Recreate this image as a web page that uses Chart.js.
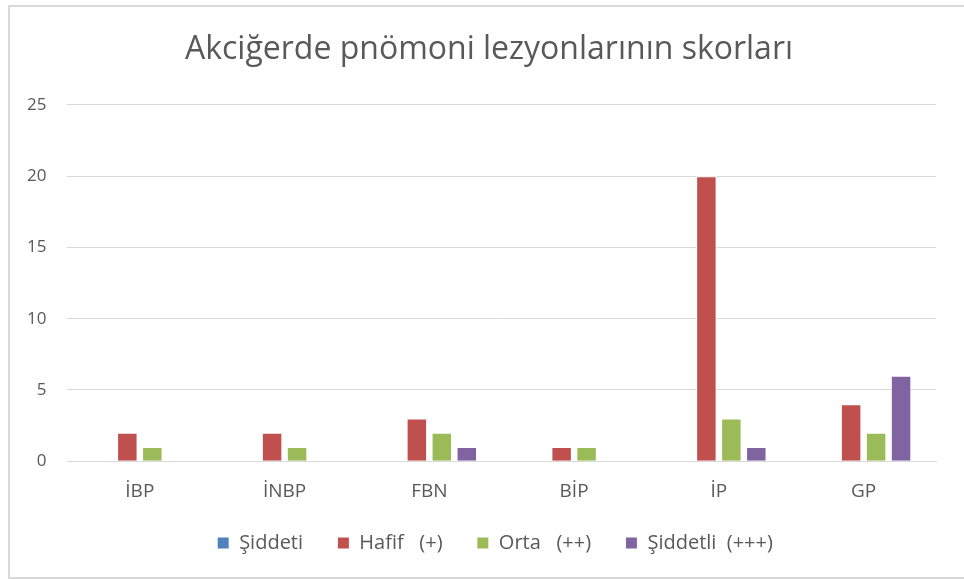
<!DOCTYPE html>
<html>
<head>
<meta charset="utf-8">
<script src="https://cdn.jsdelivr.net/npm/chart.js@4/dist/chart.umd.min.js"></script>
<style>
  html, body { margin: 0; padding: 0; background: #fff; overflow: hidden; }
  .frame { position: absolute; left: 8px; top: 5px; width: 980px; height: 570px; border: 2px solid #d9d9d9; }
  .wrap { position: absolute; left: 0; top: 0; width: 964px; height: 579px; }
</style>
</head>
<body>
<div class="frame"></div>
<div class="wrap"><canvas id="chart"></canvas></div>
<script>
// lezyon skorları
const categories = ['İBP', 'İNBP', 'FBN', 'BİP', 'İP', 'GP'];
const siddeti   = [0, 0, 0, 0, 0, 0];
const hafif     = [2, 2, 3, 1, 20, 4];
const orta      = [1, 1, 2, 1, 3, 2];
const siddetli  = [0, 0, 1, 0, 1, 6];
const yTicks    = [0, 5, 10, 15, 20, 25];

const textColor = '#595959';
const gridColor = '#d9d9d9';
const fontFamily = '"Open Sans", Lato, sans-serif';

const series = [
  { label: 'Şiddeti', data: siddeti, color: '#4f81bd' },
  { label: 'Hafif   (+)', data: hafif, color: '#c0504d' },
  { label: 'Orta   (++)', data: orta, color: '#9bbb59' },
  { label: 'Şiddetli  (+++)', data: siddetli, color: '#8064a2' },
];

const baseLabels = Chart.defaults.plugins.legend.labels.generateLabels;

// centre title and legend over the whole frame rather than the padded box
const blockShift = {
  id: 'blockShift',
  afterLayout(chart) {
    chart.titleBlock.right += 36;
    chart.legend.left += 24;
    chart.legend.right += 24;
  },
};

new Chart(document.getElementById('chart'), {
  type: 'bar',
  data: {
    labels: categories,
    datasets: series.map(s => ({
      label: s.label,
      data: s.data,
      backgroundColor: s.color,
      borderColor: '#ffffff',
      borderWidth: 1,
      categoryPercentage: 0.69,
      barPercentage: 0.82,
    })),
  },
  options: {
    responsive: true, maintainAspectRatio: false, animation: false,
    layout: { padding: { left: 6, right: 28, top: 0, bottom: 16 } },
    plugins: {
      title: {
        display: true,
        text: 'Akciğerde pnömoni lezyonlarının skorları',
        color: textColor,
        font: { family: fontFamily, size: 32, weight: 'normal' },
        padding: { top: 31, bottom: 35.5 },
      },
      legend: {
        position: 'bottom',
        labels: {
          color: textColor,
          font: { family: fontFamily, size: 20 },
          boxWidth: 12, boxHeight: 12,
          padding: 11,
          // wider gap between entries without making the legend taller
          generateLabels: chart => baseLabels(chart).map((l, i, arr) =>
            ({ ...l, text: i < arr.length - 1 ? l.text + '\u2003\u2009' : l.text })),
        },
      },
      tooltip: { enabled: false },
    },
    scales: {
      x: {
        grid: { display: false, drawTicks: false },
        border: { color: gridColor, width: 1 },
        ticks: { color: textColor, font: { family: fontFamily, size: 19 }, padding: 19 },
      },
      y: {
        min: 0, max: 25,
        afterBuildTicks: axis => { axis.ticks = yTicks.map(v => ({ value: v })); },
        grid: { color: gridColor, drawTicks: false },
        border: { display: false },
        ticks: { color: textColor, font: { family: fontFamily, size: 17 }, padding: 21 },
      },
    },
  },
  plugins: [blockShift],
});
</script>
</body>
</html>
